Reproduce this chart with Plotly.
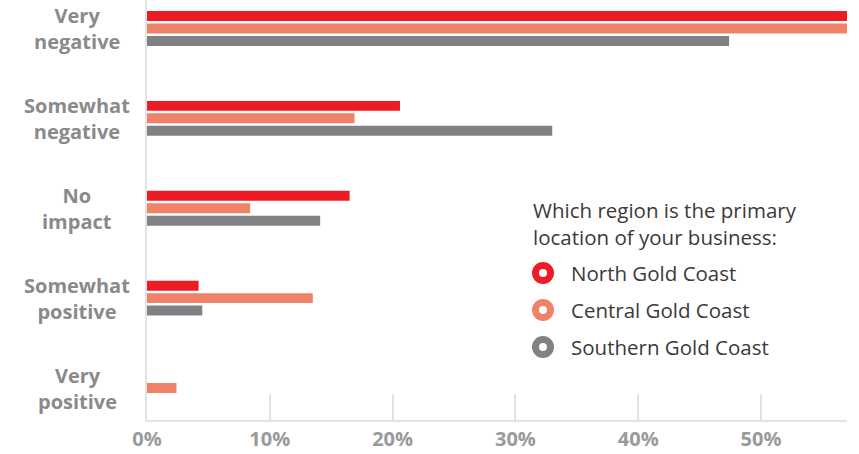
import plotly.graph_objects as go

# Survey responses: impact on business, by primary business region (% of respondents)
categories = ["Very negative", "Somewhat negative", "No impact", "Somewhat positive", "Very positive"]
category_labels = ["Very<br>negative", "Somewhat<br>negative", "No<br>impact", "Somewhat<br>positive", "Very<br>positive"]
regions = ["North Gold Coast", "Central Gold Coast", "Southern Gold Coast"]
north = [57.0, 20.6, 16.5, 4.2, 0.0]
central = [57.0, 16.9, 8.4, 13.5, 2.4]
southern = [47.4, 33.0, 14.1, 4.5, 0.0]
x_ticks = [0, 10, 20, 30, 40, 50]
x_tick_text = ["0%", "10%", "20%", "30%", "40%", "50%"]

colors = ["#ED1C24", "#F0826A", "#808185"]
series = [north, central, southern]

fig = go.Figure()
for name, vals, col in zip(regions, series, colors):
    fig.add_trace(go.Bar(
        y=categories, x=vals, orientation="h", name=name,
        marker=dict(color=col, line=dict(width=0)),
        showlegend=False, hoverinfo="x+y",
    ))

W, H = 859, 454
L, R, T, B = 147, 12, 0, 34

fig.update_layout(
    width=W, height=H,
    margin=dict(l=L, r=R, t=T, b=B, pad=0),
    paper_bgcolor="white", plot_bgcolor="white",
    barmode="group", bargap=0.583, bargroupgap=0.2,
    font=dict(family="Open Sans", color="#3a3a3a"),
)

fig.update_xaxes(
    range=[0, 57], tickmode="array", tickvals=x_ticks, ticktext=x_tick_text,
    showgrid=False, zeroline=False, automargin=False,
    showline=True, linecolor="#e3e3e3", linewidth=1.5,
    ticks="inside", ticklen=26, tickwidth=1.5, tickcolor="#e3e3e3",
    tickfont=dict(family="Open Sans", size=20, color="#9a9a9a", weight="bold"),
)
fig.update_yaxes(
    type="category", categoryorder="array", categoryarray=categories,
    range=[4.356, -0.317], automargin=False,
    showgrid=False, zeroline=False, showticklabels=False,
    showline=True, linecolor="#e3e3e3", linewidth=1.5,
)

# Category labels, centred in the left margin
for cat, lab in zip(categories, category_labels):
    fig.add_annotation(
        x=0, xref="paper", y=cat, yref="y",
        text=lab, showarrow=False, xanchor="center", yanchor="middle",
        xshift=-70, align="center",
        font=dict(family="Open Sans", size=20, color="#8a8a8a", weight="bold"),
    )

pw, ph = W - L - R, H - T - B


def px(x):
    return (x - L) / pw


def py(y):
    return 1 - (y - T) / ph


# Legend block
fig.add_annotation(
    x=px(531), y=py(223), xref="paper", yref="paper",
    text="Which region is the primary<br>location of your business:",
    showarrow=False, xanchor="left", yanchor="middle", align="left",
    font=dict(family="Open Sans", size=20.5, color="#3a3a3a"),
)

legend_y = [273, 310, 347]
for name, col, ly in zip(regions, colors, legend_y):
    fig.add_shape(
        type="circle", xref="paper", yref="paper",
        xsizemode="pixel", ysizemode="pixel", xanchor=px(543), yanchor=py(ly),
        x0=-7.5, x1=7.5, y0=-7.5, y1=7.5,
        line=dict(color=col, width=7), fillcolor="white",
    )
    fig.add_annotation(
        x=px(569), y=py(ly), xref="paper", yref="paper",
        text=name, showarrow=False, xanchor="left", yanchor="middle",
        font=dict(family="Open Sans", size=20.5, color="#3a3a3a"),
    )

fig.write_html("out.html")
